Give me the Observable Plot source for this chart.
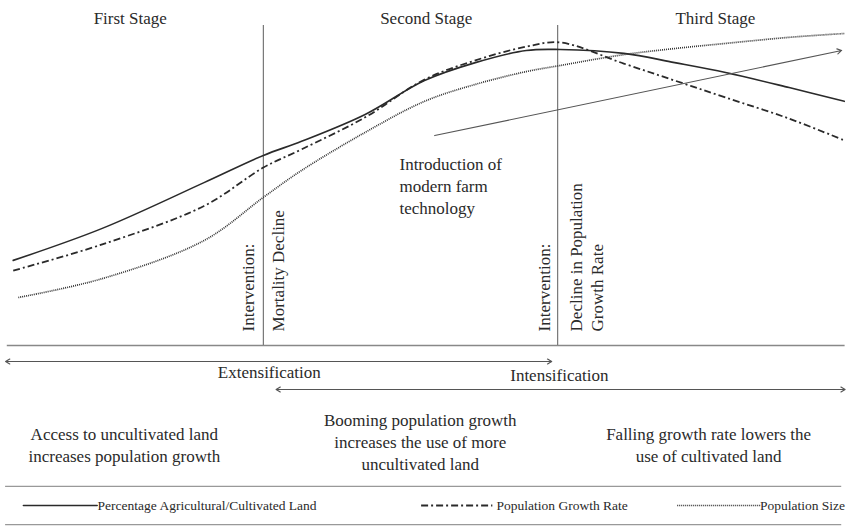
<!DOCTYPE html>
<html>
<head>
<meta charset="utf-8">
<script src="https://cdn.jsdelivr.net/npm/d3@7"></script>
<script src="https://cdn.jsdelivr.net/npm/@observablehq/plot@0.6"></script>
<style>
  html, body { margin: 0; padding: 0; background: #fff; }
  #chart svg { display: block; }
</style>
</head>
<body>
<div id="chart"></div>
<script>
// ---- Data (phase: 0–100 time index; level: 0–100 relative index) ----
const phase      = [1.5, 12, 24, 31, 35.5, 43, 50, 56, 62, 66, 73.5, 79.5, 85.5, 93, 99.5];
const agriLand   = [26.6, 36.6, 50.9, 59.4, 63.8, 72.2, 82.8, 88.4, 92.2, 92.5, 91.3, 88.4, 85.3, 80.6, 76.3];
const growthRate = [23.4, 31.6, 43.6, 55.6, 61.3, 71.3, 83.1, 89.1, 93.4, 94.7, 88.1, 82.8, 77.5, 70.9, 64.1];
const popPhase   = [2.1, 12, 24, 31, 35.5, 43, 50, 56, 62, 66, 73.5, 79.5, 85.5, 93, 99.5];
const popSize    = [15.0, 20.9, 32.8, 46.3, 54.7, 66.6, 76.3, 81.6, 85.6, 87.5, 90.9, 92.8, 94.4, 96.3, 97.5];

const stageNames   = ["First Stage", "Second Stage", "Third Stage"];
const stageCenters = [15.3, 50.2, 84.3];
const stageLevel   = 102.3;

const interventionPhases = [31.0, 65.7];
const interventionLabels = ["Intervention:", "Mortality Decline", "Intervention:", "Decline in Population", "Growth Rate"];
const interventionLabelPhases = [29.25, 32.8, 64.15, 67.9, 70.4];
const interventionLabelLevel = 4.4;

const techLabel = "Introduction of\nmodern farm\ntechnology";
const techLabelAt = [47.05, 50.3];
const techArrowFrom = [51.2, 65.6];
const techArrowTo   = [99.2, 92.2];

const spanNames  = ["Extensification", "Intensification"];
const spanStart  = [0.6, 32.5];
const spanEnd    = [65.0, 99.6];
const spanLevel  = [-5.0, -13.75];
const spanLabelPhase = [31.7, 65.9];
const spanLabelLevel = [-8.4, -9.4];

const descTexts  = [
  "Access to uncultivated land\nincreases population growth",
  "Booming population growth\nincreases the use of more\nuncultivated land",
  "Falling growth rate lowers the\nuse of cultivated land"
];
const descPhases = [14.6, 49.5, 83.5];
const descLevels = [-30.8, -29.7, -30.8];

const seriesNames   = ["Percentage Agricultural/Cultivated Land", "Population Growth Rate", "Population Size"];
const legendSampleStart = [2.7, 49.6, 79.8];
const legendSampleEnd   = [11.4, 58.0, 89.7];
const legendTextAt      = [11.45, 58.5, 99.6];
const legendTextAnchor  = ["start", "start", "end"];
const legendLevel = -50;
const separatorLevels = [-44, -56];

// ---- Build tables ----
const agriData = phase.map((p, i) => ({p, v: agriLand[i]}));
const rateData = phase.map((p, i) => ({p, v: growthRate[i]}));
const popData  = popPhase.map((p, i) => ({p, v: popSize[i]}));

const stages = stageNames.map((s, i) => ({s, p: stageCenters[i], v: stageLevel}));
const ivLabels = interventionLabels.map((s, i) => ({s, p: interventionLabelPhases[i], v: interventionLabelLevel}));

const spanArrows = [];
spanNames.forEach((n, i) => {
  const mid = (spanStart[i] + spanEnd[i]) / 2;
  spanArrows.push({x1: mid, x2: spanStart[i], y: spanLevel[i]});
  spanArrows.push({x1: mid, x2: spanEnd[i], y: spanLevel[i]});
});
const spanLabels = spanNames.map((s, i) => ({s, p: spanLabelPhase[i], v: spanLabelLevel[i]}));
const descs = descTexts.map((s, i) => ({s, p: descPhases[i], v: descLevels[i]}));

const legendLines = seriesNames.map((s, i) => [
  {p: legendSampleStart[i], v: legendLevel},
  {p: legendSampleEnd[i], v: legendLevel}
]);
const legendTexts = seriesNames.map((s, i) => ({s, p: legendTextAt[i], v: legendLevel, a: legendTextAnchor[i]}));

const ink = "#2a2a2a";
const serif = "'Liberation Serif', 'DejaVu Serif', serif";
const dashDot = "7 3 2 3";
const dotted = "1 1";

const chart = Plot.plot({
  width: 848,
  height: 526,
  margin: 0,
  x: {domain: [0, 100], axis: null},
  y: {domain: [-56.5625, 107.8125], axis: null},
  style: {fontFamily: serif, background: "#fff", color: ink},
  marks: [
    // frame
    Plot.ruleY([0], {x1: 0.8, x2: 99.6, stroke: "#888", strokeWidth: 1.5}),
    Plot.ruleX(interventionPhases, {y1: 0, y2: 100, stroke: "#777", strokeWidth: 1.2}),
    Plot.ruleY(separatorLevels, {x1: 0.6, x2: 99.2, stroke: "#999", strokeWidth: 1.3}),

    // curves
    Plot.line(agriData, {x: "p", y: "v", curve: "catmull-rom", stroke: ink, strokeWidth: 1.6}),
    Plot.line(rateData, {x: "p", y: "v", curve: "catmull-rom", stroke: ink, strokeWidth: 1.8,
      strokeDasharray: dashDot, strokeLinecap: "butt"}),
    Plot.line(popData, {x: "p", y: "v", curve: "catmull-rom", stroke: "#333", strokeWidth: 1.7,
      strokeDasharray: dotted, strokeLinecap: "butt"}),

    // technology arrow
    Plot.arrow([{}], {x1: techArrowFrom[0], y1: techArrowFrom[1], x2: techArrowTo[0], y2: techArrowTo[1],
      stroke: "#555", strokeWidth: 1.1, headLength: 7}),

    // stage titles
    Plot.text(stages, {x: "p", y: "v", text: "s", fontSize: 17, fill: ink}),

    // intervention labels
    Plot.text(ivLabels, {x: "p", y: "v", text: "s", rotate: -90, textAnchor: "start", fontSize: 17, fill: ink}),

    // technology label
    Plot.text([techLabel], {x: techLabelAt[0], y: techLabelAt[1], text: d => d, textAnchor: "start",
      lineHeight: 1.3, fontSize: 17, fill: ink}),

    // extensification / intensification
    Plot.arrow(spanArrows, {x1: "x1", x2: "x2", y1: "y", y2: "y", stroke: "#555", strokeWidth: 1.2, headLength: 6}),
    Plot.text(spanLabels, {x: "p", y: "v", text: "s", fontSize: 17, fill: ink}),

    // descriptions
    Plot.text(descs, {x: "p", y: "v", text: "s", fontSize: 17, lineHeight: 1.3, fill: ink}),

    // legend
    Plot.line(legendLines[0], {x: "p", y: "v", stroke: ink, strokeWidth: 1.6}),
    Plot.line(legendLines[1], {x: "p", y: "v", stroke: ink, strokeWidth: 1.8, strokeDasharray: dashDot, strokeLinecap: "butt"}),
    Plot.line(legendLines[2], {x: "p", y: "v", stroke: "#333", strokeWidth: 1.7, strokeDasharray: dotted, strokeLinecap: "butt"}),
    Plot.text(legendTexts.filter(d => d.a === "start"), {x: "p", y: "v", text: "s", textAnchor: "start", fontSize: 13.5, fill: ink}),
    Plot.text(legendTexts.filter(d => d.a === "end"), {x: "p", y: "v", text: "s", textAnchor: "end", fontSize: 13.5, fill: ink})
  ]
});
document.getElementById("chart").appendChild(chart);
</script>
</body>
</html>
